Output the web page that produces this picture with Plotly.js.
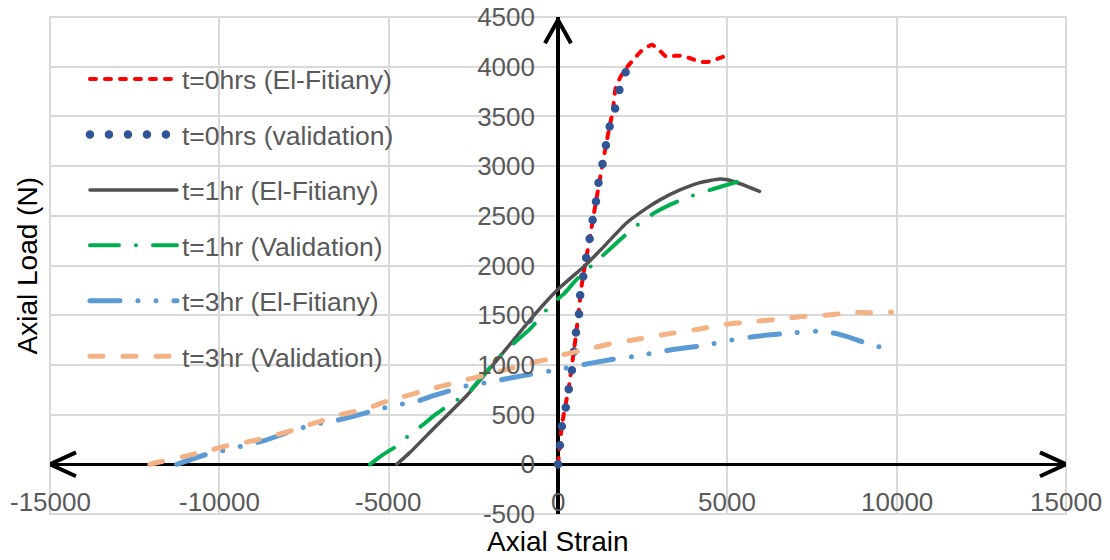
<!DOCTYPE html>
<html><head><meta charset="utf-8">
<script src="https://cdn.plot.ly/plotly-3.0.1.min.js"></script>
<style>
html,body{margin:0;padding:0;background:#fff;}
#chart{width:1110px;height:560px;}
.js-line{stroke-linecap:round;}
</style></head><body><div id="chart"></div>
<script>
// ---- tick labels ----
const xTickVals = [-15000, -10000, -5000, 0, 5000, 10000, 15000];
const xTickText = ['-15000', '-10000', '-5000', '0', '5000', '10000', '15000'];
const yTickVals = [-500, 0, 500, 1000, 1500, 2000, 2500, 3000, 3500, 4000, 4500];
const yTickText = ['-500', '0', '500', '1000', '1500', '2000', '2500', '3000', '3500', '4000', '4500'];

// ---- series names ----
const seriesNames = ['t=0hrs (El-Fitiany)', 't=0hrs (validation)', 't=1hr (El-Fitiany)',
                     't=1hr (Validation)', 't=3hr (El-Fitiany)', 't=3hr (Validation)'];

// ---- t=0hrs (El-Fitiany) ----
const strain0El = [0, 120, 330, 530, 720, 930, 1110, 1300, 1500, 1620, 1700, 1850, 2050, 2300, 2500, 2770, 2950, 3200, 3450, 3650, 3900, 4200, 4450, 4880];
const load0El   = [0, 400, 800, 1300, 1850, 2260, 2620, 2990, 3360, 3560, 3780, 3900, 4000, 4100, 4170, 4220, 4180, 4100, 4110, 4110, 4085, 4050, 4050, 4100];

// ---- t=0hrs (validation) ----
const strain0Val = [0, 59, 118, 236, 325, 413, 472, 532, 620, 650, 738, 827, 930, 1024, 1113, 1181, 1299, 1398, 1496, 1663, 1781, 1929, 2224];
const load0Val   = [0, 201, 392, 582, 773, 954, 1135, 1325, 1506, 1687, 1877, 2068, 2259, 2460, 2624, 2808, 2992, 3176, 3363, 3547, 3725, 3906, 4059];

// ---- t=1hr (El-Fitiany) ----
const strain1El = [-4760, -4370, -3700, -2700, -1700, -730, 0, 800, 1240, 2030, 2620, 3010, 3600, 4190, 4780, 5000, 5400, 5950];
const load1El   = [0, 120, 350, 690, 1090, 1490, 1760, 2000, 2150, 2430, 2577, 2660, 2760, 2834, 2871, 2862, 2820, 2745];

// ---- t=1hr (Validation) ----
const strain1Val = [-5550, -5200, -4760, -4370, -3980, -3700, -3450, -3140, -2700, -2200, -1700, -1200, -830, -190, 190, 550, 1290, 1900, 2500, 2900, 3360, 3850, 4830, 5320];
const load1Val   = [0, 90, 185, 300, 400, 480, 540, 620, 700, 900, 1090, 1250, 1360, 1610, 1720, 1860, 2090, 2280, 2450, 2540, 2620, 2690, 2795, 2845];

// ---- t=3hr (El-Fitiany) ----
const strain3El = [-11260, -10280, -9700, -9200, -8700, -7770, -7200, -6700, -6190, -5210, -4700, -4100, -3680, -2700, -2150, -1600, -1070, -40, 700, 1500, 2500, 3300, 4190, 5130, 5700, 6200, 6730, 7740, 8280, 8800, 9300, 9510];
const load3El   = [0, 110, 150, 195, 235, 345, 400, 430, 470, 560, 600, 640, 690, 790, 820, 855, 890, 950, 1000, 1050, 1100, 1150, 1190, 1250, 1280, 1300, 1315, 1340, 1310, 1255, 1195, 1180];

// ---- t=3hr (Validation) ----
const strain3Val = [-12050, -11560, -11070, -10570, -10180, -9690, -9190, -8700, -8260, -7820, -7320, -6930, -6390, -5950, -5450, -5060, -4570, -4130, -3630, -3240, -2700, -2250, -1710, -1320, -830, -330, 160, 600, 1040, 1540, 2300, 3200, 4190, 4880, 5370, 5870, 6360, 6850, 7290, 7790, 8280, 8770, 9210, 9750, 9850];
const load3Val   = [0, 40, 77, 117, 150, 194, 224, 261, 301, 344, 402, 442, 502, 535, 585, 635, 680, 723, 770, 803, 853, 887, 937, 971, 1021, 1054, 1104, 1138, 1172, 1212, 1255, 1310, 1362, 1406, 1423, 1439, 1456, 1473, 1489, 1496, 1513, 1529, 1525, 1529, 1533];

const FONT = 'Liberation Sans, Arial, sans-serif';

function tr(x, y, name, color, width, dash, grp) {
  return {
    x: x, y: y, name: name, type: 'scatter', mode: 'lines',
    line: {color: color, width: width, dash: dash, shape: 'spline', smoothing: 0.5},
    legendgroup: grp, hoverinfo: 'skip'
  };
}

const data = [
  tr(strain0El, load0El, seriesNames[0], '#ff0000', 4, '6px,9px', 'g1'),
  tr(strain0Val, load0Val, seriesNames[1], '#2f5597', 8.5, '0px,19px', 'g2'),
  tr(strain1El, load1El, seriesNames[2], '#505050', 3.5, 'solid', 'g3'),
  tr(strain1Val, load1Val, seriesNames[3], '#00b050', 4, '29px,17px,0px,17px', 'g4'),
  tr(strain3El, load3El, seriesNames[4], '#5b9bd5', 5, '30px,18px,0px,18px,0px,18px', 'g5'),
  tr(strain3Val, load3Val, seriesNames[5], '#f4b183', 5, '13px,20px', 'g6')
];

// arrow heads (open chevrons) in data units
const axX = 768, axY = 120, ayX = 385, ayY = 235, yTop = 4470;
const shapes = [
  {type: 'path', xref: 'x', yref: 'y', layer: 'above',
   path: `M ${-15000 + axX},${axY} L -15000,0 L ${-15000 + axX},${-axY}`,
   line: {color: '#000', width: 4}},
  {type: 'path', xref: 'x', yref: 'y', layer: 'above',
   path: `M ${15000 - axX},${axY} L 15000,0 L ${15000 - axX},${-axY}`,
   line: {color: '#000', width: 4}},
  {type: 'path', xref: 'x', yref: 'y', layer: 'above',
   path: `M ${-ayX},${yTop - ayY} L 0,${yTop} L ${ayX},${yTop - ayY}`,
   line: {color: '#000', width: 4}},
  {type: 'rect', xref: 'paper', yref: 'paper', x0: 0, x1: 1, y0: 0, y1: 1, layer: 'below',
   line: {color: '#d9d9d9', width: 2}}
];

// x tick labels sit just above the bottom border, as in the original
const xLabelAnn = xTickVals.map((v, i) => ({
  text: xTickText[i], xref: 'x', yref: 'paper', x: v, y: 0.0235,
  xanchor: 'center', yanchor: 'middle', showarrow: false,
  font: {family: FONT, size: 26, color: '#595959'}
}));

const layout = {
  width: 1110, height: 560,
  margin: {l: 50, r: 44, t: 17, b: 46},
  paper_bgcolor: '#fff', plot_bgcolor: '#fff',
  font: {family: FONT, color: '#595959'},
  showlegend: true,
  legend: {
    x: 0.0344, y: 0.923, xanchor: 'left', yanchor: 'top',
    bgcolor: 'rgba(0,0,0,0)', borderwidth: 0,
    font: {family: FONT, size: 26.5, color: '#595959'},
    traceorder: 'grouped', tracegroupgap: 18, itemwidth: 87
  },
  xaxis: {
    range: [-15000, 15000], tickvals: xTickVals, ticktext: xTickText,
    showticklabels: false,
    showgrid: true, gridcolor: '#d9d9d9', gridwidth: 2,
    zeroline: true, zerolinecolor: '#000', zerolinewidth: 3.5,
    showline: false, ticks: '',
    fixedrange: true
  },
  yaxis: {
    range: [-500, 4500], tickvals: yTickVals, ticktext: yTickText,
    anchor: 'free', position: 0.5,
    showgrid: true, gridcolor: '#d9d9d9', gridwidth: 2,
    zeroline: true, zerolinecolor: '#000', zerolinewidth: 3.5,
    showline: false, ticks: '', ticklabelstandoff: 23,
    tickfont: {family: FONT, size: 26, color: '#595959'},
    fixedrange: true
  },
  annotations: [
    {text: 'Axial Load (N)', xref: 'paper', yref: 'paper', x: -0.0217, y: 0.5,
     xanchor: 'center', yanchor: 'middle', textangle: -90, showarrow: false,
     font: {family: FONT, size: 28, color: '#000'}},
    {text: 'Axial Strain', xref: 'paper', yref: 'paper', x: 0.5, y: -0.0563,
     xanchor: 'center', yanchor: 'middle', showarrow: false,
     font: {family: FONT, size: 28, color: '#000'}}
  ].concat(xLabelAnn),
  shapes: shapes
};

Plotly.newPlot('chart', data, layout, {displayModeBar: false, staticPlot: true});
</script></body></html>
